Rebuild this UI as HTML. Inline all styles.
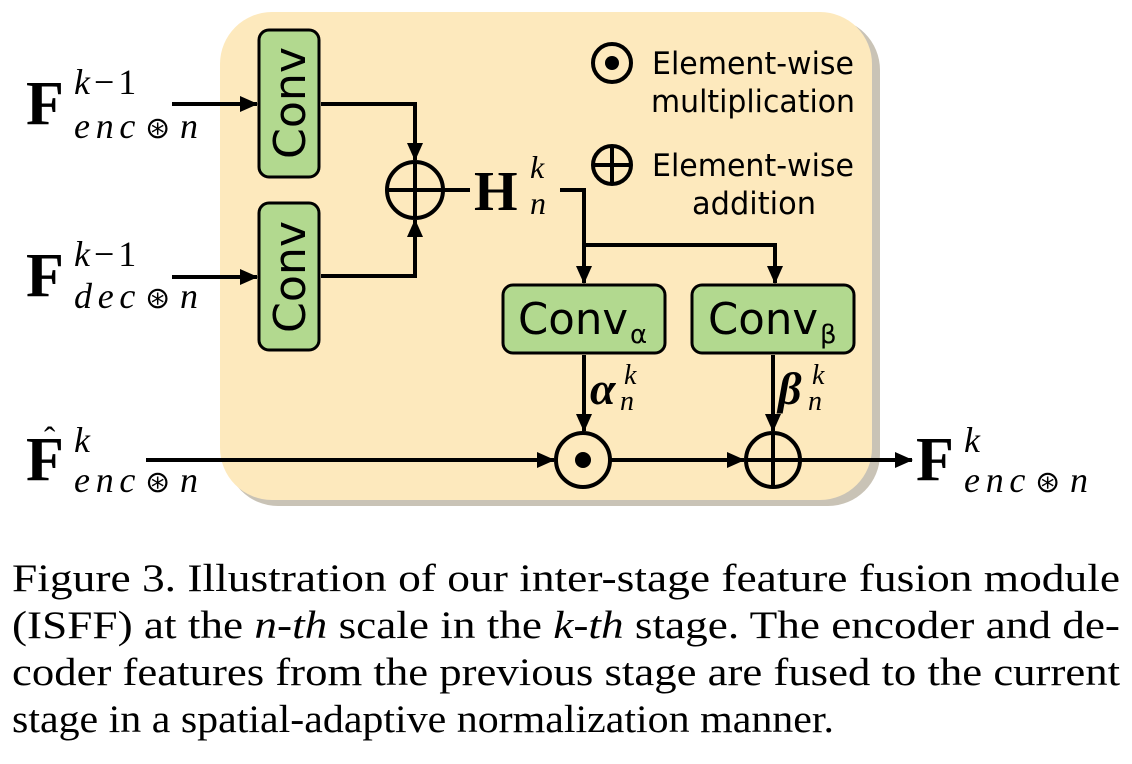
<!DOCTYPE html>
<html><head><meta charset="utf-8"><style>
html,body{margin:0;padding:0;background:#fff;}
svg{display:block;}
.m{font-family:"Liberation Serif",serif;}
.c{font-family:"DejaVu Sans",sans-serif;}
</style></head><body>
<svg width="1132" height="764" viewBox="0 0 1132 764" xmlns="http://www.w3.org/2000/svg">
<defs>
<marker id="b" markerWidth="18" markerHeight="16" refX="17" refY="8" orient="auto" markerUnits="userSpaceOnUse"><path d="M0,0 L18,8 L0,16 z" fill="#000"/></marker>
</defs>
<rect x="226" y="18" width="654" height="488" rx="52" fill="#c9c3b6"/>
<rect x="220" y="12" width="652" height="488" rx="52" fill="#fde9bd"/>

<rect x="259" y="30" width="60" height="147" rx="10" fill="#b2d98f" stroke="#000" stroke-width="3"/>
<rect x="259" y="203" width="60" height="147" rx="10" fill="#b2d98f" stroke="#000" stroke-width="3"/>
<text class="c" font-size="44" transform="translate(305,103) rotate(-90)" text-anchor="middle" textLength="112" lengthAdjust="spacingAndGlyphs">Conv</text>
<text class="c" font-size="44" transform="translate(305,277) rotate(-90)" text-anchor="middle" textLength="112" lengthAdjust="spacingAndGlyphs">Conv</text>

<rect x="503" y="285" width="162" height="68" rx="10" fill="#b2d98f" stroke="#000" stroke-width="3"/>
<rect x="692" y="285" width="162" height="68" rx="10" fill="#b2d98f" stroke="#000" stroke-width="3"/>
<text class="c" font-size="44" x="518" y="334" textLength="110" lengthAdjust="spacingAndGlyphs">Conv</text>
<text class="c" font-size="26" x="630" y="343">α</text>
<text class="c" font-size="44" x="708" y="334" textLength="110" lengthAdjust="spacingAndGlyphs">Conv</text>
<text class="c" font-size="26" x="820" y="343">β</text>

<g stroke="#000" stroke-width="4" fill="none">
<line x1="172" y1="104" x2="257" y2="104" marker-end="url(#b)"/>
<line x1="172" y1="277" x2="257" y2="277" marker-end="url(#b)"/>
<polyline points="321,104 415,104 415,160" marker-end="url(#b)"/>
<polyline points="321,276 415,276 415,220" marker-end="url(#b)"/>
<circle cx="415" cy="190" r="28"/>
<line x1="387" y1="190" x2="443" y2="190"/>
<line x1="415" y1="162" x2="415" y2="218"/>
<line x1="443" y1="190" x2="470" y2="190"/>
<polyline points="560,190 584,190 584,283" marker-end="url(#b)"/>
<polyline points="584,245 775,245 775,283" marker-end="url(#b)"/>
<line x1="584" y1="355" x2="584" y2="431" marker-end="url(#b)"/>
<line x1="773" y1="355" x2="773" y2="431" marker-end="url(#b)"/>
<line x1="146" y1="460" x2="554" y2="460" marker-end="url(#b)"/>
<circle cx="583" cy="460" r="27"/>
<line x1="610" y1="460" x2="744" y2="460" marker-end="url(#b)"/>
<circle cx="773" cy="460" r="27"/>
<line x1="746" y1="460" x2="800" y2="460"/>
<line x1="773" y1="433" x2="773" y2="487"/>
<line x1="800" y1="460" x2="912" y2="460" marker-end="url(#b)"/>
<circle cx="612" cy="63" r="19"/>
<circle cx="612" cy="165" r="19"/>
<line x1="593" y1="165" x2="631" y2="165"/>
<line x1="612" y1="146" x2="612" y2="184"/>
</g>
<circle cx="583" cy="460" r="8" fill="#000"/>
<circle cx="612" cy="63" r="7" fill="#000"/>

<g class="c" font-size="31" fill="#000">
<text x="652" y="74" textLength="202" lengthAdjust="spacingAndGlyphs">Element-wise</text>
<text x="651" y="112" textLength="204" lengthAdjust="spacingAndGlyphs">multiplication</text>
<text x="652" y="176" textLength="202" lengthAdjust="spacingAndGlyphs">Element-wise</text>
<text x="692" y="214" textLength="124" lengthAdjust="spacingAndGlyphs">addition</text>
</g>

<g class="m" fill="#000">
<text x="26" y="124" font-size="62" font-weight="bold">F</text>
<text x="74" y="94" font-size="36" font-style="italic">k<tspan font-style="normal" dx="4">−</tspan><tspan font-style="normal" dx="4">1</tspan></text>
<text x="74" y="138" font-size="36" font-style="italic" textLength="124" lengthAdjust="spacing">enc<tspan font-style="normal" font-size="30" dx="4">⊛</tspan><tspan dx="4">n</tspan></text>

<text x="26" y="296" font-size="62" font-weight="bold">F</text>
<text x="74" y="266" font-size="36" font-style="italic">k<tspan font-style="normal" dx="4">−</tspan><tspan font-style="normal" dx="4">1</tspan></text>
<text x="74" y="308" font-size="36" font-style="italic" textLength="124" lengthAdjust="spacing">dec<tspan font-style="normal" font-size="30" dx="4">⊛</tspan><tspan dx="4">n</tspan></text>

<text x="26" y="480" font-size="62" font-weight="bold">F</text>
<text x="44" y="450" font-size="34">ˆ</text>
<text x="74" y="452" font-size="36" font-style="italic">k</text>
<text x="74" y="492" font-size="36" font-style="italic" textLength="124" lengthAdjust="spacing">enc<tspan font-style="normal" font-size="30" dx="4">⊛</tspan><tspan dx="4">n</tspan></text>

<text x="474" y="210" font-size="56" font-weight="bold">H</text>
<text x="530" y="178" font-size="32" font-style="italic">k</text>
<text x="530" y="214" font-size="32" font-style="italic">n</text>

<text x="590" y="404" font-size="46" font-weight="bold" font-style="italic">α</text>
<text x="624" y="384" font-size="28" font-style="italic">k</text>
<text x="620" y="410" font-size="28" font-style="italic">n</text>
<text x="778" y="404" font-size="46" font-weight="bold" font-style="italic">β</text>
<text x="812" y="384" font-size="28" font-style="italic">k</text>
<text x="808" y="410" font-size="28" font-style="italic">n</text>

<text x="916" y="480" font-size="62" font-weight="bold">F</text>
<text x="964" y="452" font-size="36" font-style="italic">k</text>
<text x="964" y="492" font-size="36" font-style="italic" textLength="124" lengthAdjust="spacing">enc<tspan font-style="normal" font-size="30" dx="4">⊛</tspan><tspan dx="4">n</tspan></text>
</g>

<g class="m" font-size="39" fill="#000">
<text x="12" y="591" textLength="1108" lengthAdjust="spacingAndGlyphs">Figure 3.  Illustration of our inter-stage feature fusion module</text>
<text x="12" y="638" textLength="1108" lengthAdjust="spacingAndGlyphs">(ISFF) at the <tspan font-style="italic">n-th</tspan> scale in the <tspan font-style="italic">k-th</tspan> stage.  The encoder and de-</text>
<text x="12" y="685" textLength="1108" lengthAdjust="spacingAndGlyphs">coder features from the previous stage are fused to the current</text>
<text x="12" y="732" textLength="822" lengthAdjust="spacingAndGlyphs">stage in a spatial-adaptive normalization manner.</text>
</g>
</svg>
</body></html>
